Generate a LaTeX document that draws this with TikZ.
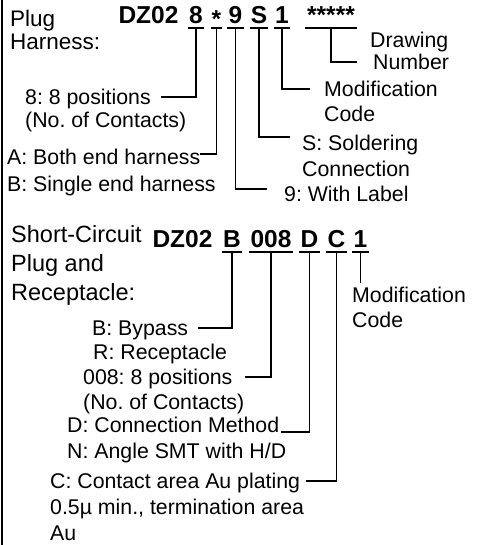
\documentclass[tikz,border=0pt]{standalone}
\usepackage{fontspec}
\setmainfont{Liberation Sans}
\usepackage{tikz}
\frenchspacing

\newcommand{\lblfont}{\fontsize{21.3}{24}\selectfont}
\newcommand{\ttlfont}{\fontsize{22.5}{26}\selectfont}
\newcommand{\ttlbfont}{\fontsize{23.5}{27}\selectfont}
\newcommand{\codefont}{\fontsize{24.5}{28}\selectfont\bfseries}

\begin{document}
\begin{tikzpicture}[x=1pt,y=1pt]
\tikzstyle{lbl}=[anchor=west,inner sep=0pt,text height=15.2pt,text depth=0pt,font=\lblfont]
\tikzstyle{ttl}=[lbl,text height=16.1pt,font=\ttlfont]
\tikzstyle{ttlb}=[lbl,text height=16.8pt,font=\ttlbfont]
\tikzstyle{code}=[anchor=base,inner xsep=1pt,inner ysep=0pt,text height=17pt,text depth=4.5pt,font=\codefont]
\tikzstyle{uline}=[line width=2.4pt]
\tikzstyle{lead}=[line width=1.7pt]
\useasboundingbox (0,0) rectangle (476,-545);
\draw[line width=1.8pt] (2.3,0) -- (2.3,-545);

\node[ttl] (tPlug) at (10,-18.5) {Plug};
\node[ttl] (tHarn) at (10,-41) {Harness:};
\node[code,inner xsep=0pt] (dzA) at (148.5,-23.5) {DZ02};
\node[code] (c8) at (196,-23.5) {8};
\node[code] (cStar) at (216.5,-23.5) {\raisebox{-4pt}{*}};
\node[code] (c9) at (235.5,-23.5) {9};
\node[code] (cS) at (259,-23.5) {S};
\node[code] (c1) at (282,-23.5) {1};
\node[code,inner xsep=2pt] (cStars) at (331,-23.5) {*****};

\node[lbl] (lDa) at (370,-40) {Drawing};
\node[lbl] (lDb) at (373,-62) {Number};
\node[lbl] (lMa) at (324,-89) {Modification};
\node[lbl] (lMb) at (324,-114) {Code};
\node[lbl] (l8a) at (25,-97) {8: 8 positions};
\node[lbl] (l8b) at (25,-120) {(No. of Contacts)};
\node[lbl] (lSa) at (302,-143) {S: Soldering};
\node[lbl] (lSb) at (302,-169) {Connection};
\node[lbl] (lA) at (7,-157) {A: Both end harness};
\node[lbl] (lB) at (7,-184) {B: Single end harness};
\node[lbl] (l9) at (284,-194) {9: With Label};

\node[ttlb] (tShort) at (11,-234.5) {Short-Circuit};
\node[ttlb] (tPlugB) at (11,-263.5) {Plug and};
\node[ttlb] (tRec) at (11,-292.5) {Receptacle:};
\node[code,inner xsep=0pt] (dzB) at (182.5,-247) {DZ02};
\node[code] (cB) at (232,-247) {B};
\node[code] (c008) at (271,-247) {008};
\node[code] (cD) at (309.5,-247) {D};
\node[code] (cC) at (336.5,-247) {C};
\node[code] (c1b) at (360.5,-247) {1};

\node[lbl] (lMc) at (352,-295) {Modification};
\node[lbl] (lMd) at (352,-320) {Code};
\node[lbl] (lBy) at (92,-328) {B: Bypass};
\node[lbl] (lR) at (93,-352) {R: Receptacle};
\node[lbl] (l008a) at (83,-377) {008: 8 positions};
\node[lbl] (l008b) at (83,-402) {(No. of Contacts)};
\node[lbl] (lDm) at (67,-425) {D: Connection Method};
\node[lbl] (lN) at (67,-451) {N: Angle SMT with H/D};
\node[lbl] (lCa) at (50,-481) {C: Contact area Au plating};
\node[lbl] (lCb) at (50,-507) {0.5µ min., termination area};
\node[lbl] (lCc) at (50,-533) {Au};

\foreach \n in {c8,cStar,c9,cS,c1,cStars,cB,c008,cD,cC,c1b}
  \draw[uline] (\n.south west) -- (\n.south east);

\draw[lead] (c8.south) |- ([xshift=10pt]l8a.east);
\draw[lead] (cStar.south) |- ([yshift=3pt]lA.east);
\draw[lead] (c9.south) |- ([shift={(-17,5)}]l9.west);
\draw[lead] (cS.south) |- ([shift={(-12,6)}]lSa.west);
\draw[lead] (c1.south) |- ([xshift=-14pt]lMa.west);
\draw[lead] (cStars.south) |- ([xshift=-16pt]lDb.west);

\draw[lead] (cB.south) |- ([xshift=10pt]lBy.east);
\draw[lead] (c008.south) |- ([xshift=12pt]l008a.east);
\draw[lead] (cD.south) |- ([shift={(2,-7)}]lDm.east);
\draw[lead] (cC.south) |- ([xshift=6pt]lCa.east);
\draw[lead] (c1b.south) -- ([yshift=4pt]lMc.north -| c1b.south);
\end{tikzpicture}
\end{document}
